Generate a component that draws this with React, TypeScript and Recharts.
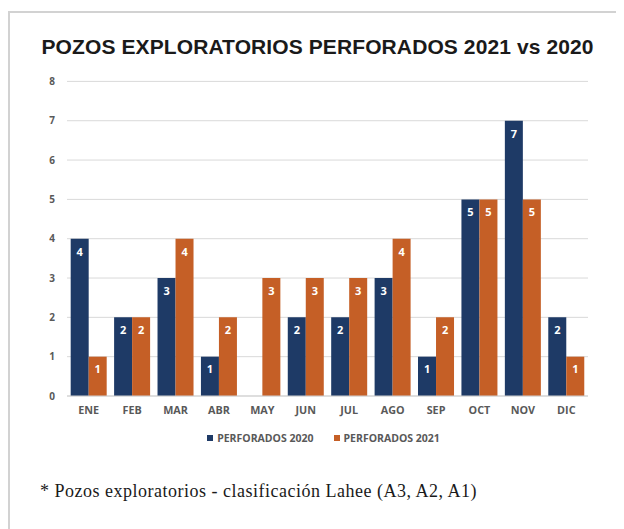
import {
  BarChart,
  Bar,
  XAxis,
  YAxis,
  CartesianGrid,
  Legend,
  LabelList,
} from "recharts";

const months = ["ENE", "FEB", "MAR", "ABR", "MAY", "JUN", "JUL", "AGO", "SEP", "OCT", "NOV", "DIC"];
const perforados2020 = [4, 2, 3, 1, null, 2, 2, 3, 1, 5, 7, 2];
const perforados2021 = [1, 2, 4, 2, 3, 3, 3, 4, 2, 5, 5, 1];
const yTicks = [0, 1, 2, 3, 4, 5, 6, 7, 8];

const NAVY = "#1e3a66";
const ORANGE = "#c55f26";
const GRAY_TEXT = "#595959";

const data = months.map((m, i) => ({
  month: m,
  p2020: perforados2020[i],
  p2021: perforados2021[i],
}));

const tickStyle = {
  fill: GRAY_TEXT,
  fontSize: 10,
  fontWeight: 700,
  fontFamily: "'Open Sans', sans-serif",
};

const LegendBox = () => (
  <div
    style={{
      height: 24,
      paddingLeft: 31,
      display: "flex",
      justifyContent: "center",
      alignItems: "center",
      gap: 20,
      fontFamily: "'Open Sans', sans-serif",
      fontSize: 10.5,
      fontWeight: 700,
      color: GRAY_TEXT,
    }}
  >
    {[
      { label: "PERFORADOS 2020", color: NAVY },
      { label: "PERFORADOS 2021", color: ORANGE },
    ].map((it) => (
      <div key={it.label} style={{ display: "flex", alignItems: "center", gap: 4 }}>
        <span style={{ width: 6, height: 6, background: it.color, display: "inline-block" }} />
        <span>{it.label}</span>
      </div>
    ))}
  </div>
);

const App = () => {
  return (
    <div style={{ position: "relative", width: 616, height: 521, overflow: "hidden" }}>
      <div
        style={{
          position: "absolute",
          left: 0,
          top: 3,
          width: 700,
          height: 600,
          borderTop: "2px solid #d2d2d2",
          borderLeft: "2px solid #d2d2d2",
        }}
      />
      <div
        style={{
          position: "absolute",
          left: 33.5,
          top: 27.5,
          fontFamily: "'Liberation Sans', Arial, sans-serif",
          fontWeight: 700,
          fontSize: 21,
          lineHeight: "21px",
          letterSpacing: 0.1,
          color: "#1a1a1a",
          whiteSpace: "nowrap",
        }}
      >
        POZOS EXPLORATORIOS PERFORADOS 2021 vs 2020
      </div>

      <div style={{ position: "absolute", left: 0, top: 62 }}>
        <BarChart
          width={600}
          height={380}
          data={data}
          margin={{ top: 11.4, right: 20, bottom: 0, left: 0 }}
          barCategoryGap="8.5%"
          barGap={0}
        >
          <CartesianGrid vertical={false} stroke="#d9d9d9" />
          <XAxis
            dataKey="month"
            tickLine={false}
            axisLine={{ stroke: "#d0d0d0" }}
            tick={{ ...tickStyle, fontSize: 10.8 }}
            tickMargin={4.5}
            height={30}
            interval={0}
          />
          <YAxis
            domain={[0, 8]}
            ticks={yTicks}
            width={59}
            tickLine={false}
            axisLine={false}
            tick={tickStyle}
            tickMargin={6}
          />
          <Legend
            verticalAlign="bottom"
            wrapperStyle={{ left: 0, width: 600 }}
            content={() => <LegendBox />}
          />
          <Bar dataKey="p2020" fill={NAVY} isAnimationActive={false}>
            <LabelList
              dataKey="p2020"
              position="insideTop"
              offset={9}
              fill="#ffffff"
              fontSize={11}
              fontWeight={700}
              fontFamily="'Open Sans', sans-serif"
            />
          </Bar>
          <Bar dataKey="p2021" fill={ORANGE} isAnimationActive={false}>
            <LabelList
              dataKey="p2021"
              position="insideTop"
              offset={9}
              fill="#ffffff"
              fontSize={11}
              fontWeight={700}
              fontFamily="'Open Sans', sans-serif"
            />
          </Bar>
        </BarChart>
      </div>

      <div
        style={{
          position: "absolute",
          left: 32,
          top: 473.6,
          fontFamily: "'Liberation Serif', 'Times New Roman', serif",
          fontSize: 18,
          lineHeight: "18px",
          letterSpacing: 0.5,
          color: "#1a1a1a",
          whiteSpace: "nowrap",
        }}
      >
        * Pozos exploratorios - clasificación Lahee (A3, A2, A1)
      </div>
    </div>
  );
};

export default App;
